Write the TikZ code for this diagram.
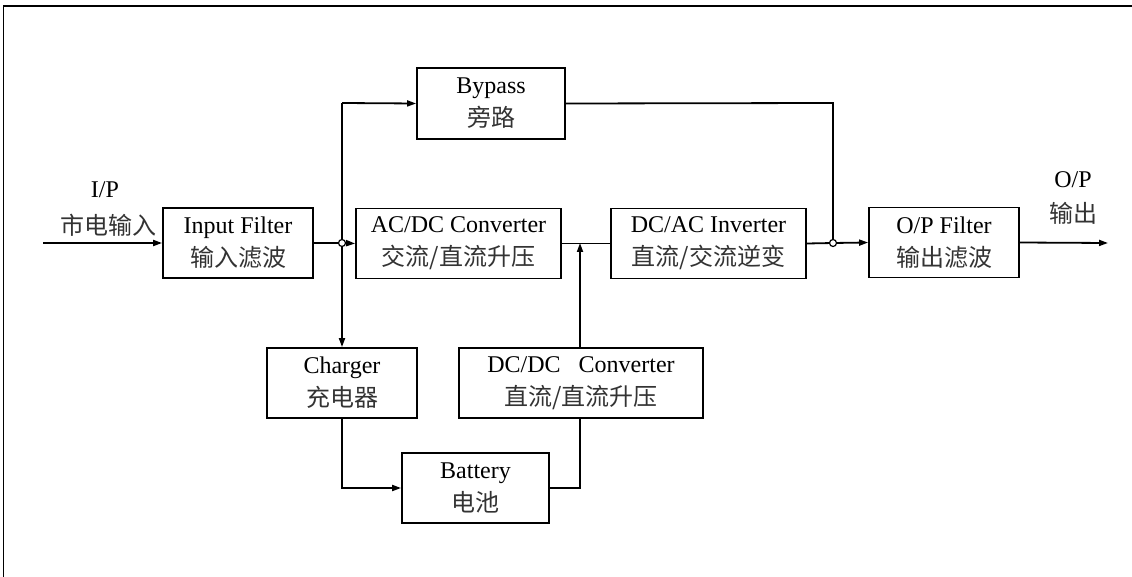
\documentclass[tikz,border=0pt]{standalone}
\usepackage{fontspec}
\setmainfont{Liberation Serif}
\newfontfamily\cjk{Noto Sans CJK SC}
\usetikzlibrary{arrows.meta,positioning,calc}
\tikzset{
  >={Triangle[length=9pt,width=6pt]},
  block/.style={draw,line width=1.8pt,fill=white,minimum height=70pt,
    align=center,inner sep=0pt,font=\fontsize{24}{33}\selectfont},
  junc/.style={circle,draw,line width=1.2pt,fill=white,minimum size=7pt,inner sep=0pt},
  lbl/.style={font=\fontsize{24}{33}\selectfont,inner sep=0pt},
}
\newcommand{\zh}[1]{{\cjk\color{black!80}#1}}

\begin{document}
\begin{tikzpicture}[x=1pt,y=-1pt,line width=1.8pt]
\useasboundingbox (0,0) rectangle (1132,577);
\draw (3.5,577) -- (3.5,6) -- (1132,6);

% main path
\node[block,minimum width=150pt] (inf) at (238,243) {Input Filter\\\zh{输入滤波}};
\node[block,minimum width=205pt] (acdc) at (458.5,243.5) {AC/DC Converter\\\zh{交流/直流升压}};
\node[block,minimum width=195pt] (dcac) at (708.5,243.5) {DC/AC Inverter\\\zh{直流/交流逆变}};
\node[block,minimum width=150pt] (opf) at (944,242.5) {O/P Filter\\\zh{输出滤波}};

% bypass and battery branch
\node[block,minimum width=148pt,minimum height=71pt] (byp) at (491,103.5) {Bypass\\\zh{旁路}};
\node[block,minimum width=150pt] (chg) at (342,383) {Charger\\\zh{充电器}};
\node[block,minimum width=244pt] (dcdc) at (581,383) {DC/DC\ \ \ Converter\\\zh{直流/直流升压}};
\node[block,minimum width=147pt] (bat) at (475.5,488) {Battery\\\zh{电池}};

% labels
\node[lbl] (ip) at (105,190) {I/P};
\node[lbl] (ipzh) at (108,225) {\zh{市电输入}};
\node[lbl] (op) at (1073,180) {O/P};
\node[lbl] (opzh) at (1073,213) {\zh{输出}};

\coordinate (ipin) at (43,243);
\coordinate (jin) at (342,243);
\coordinate (jtop) at (342,103);
\coordinate (jmid) at (580,243);
\coordinate (jout) at (833,243);
\coordinate (jbyp) at (833,103);
\coordinate (opout) at (1108,243);

\draw[->] (ipin) -- (inf.west);
\draw (inf.east) -- (jin);
\draw[->] (jin) -- (acdc.west);
\draw[->] (jtop) -- (chg.north);
\draw[->] (jtop) -- (byp.west);
\draw (byp.east) -- (jbyp) -- (jout);
\draw (acdc.east) -- (dcac.west);
\draw (dcac.east) -- (jout);
\draw[->] (jout) -- (opf.west);
\draw[->] (opf.east) -- (opout);
\draw[->] (chg.south) |- (bat.west);
\draw (bat.east) -| (dcdc.south -| jmid);
\draw[->] (dcdc.north -| jmid) -- (jmid);

\node[junc] (cin) at (jin) {};
\node[junc] (cout) at (jout) {};
\end{tikzpicture}
\end{document}
